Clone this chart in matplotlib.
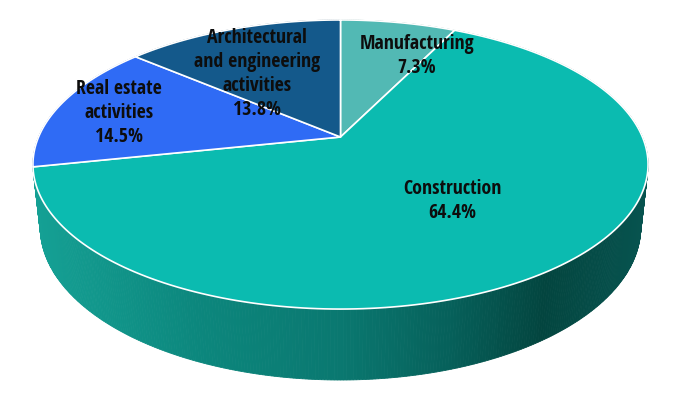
import numpy as np
import matplotlib
matplotlib.use("Agg")
import matplotlib.pyplot as plt
from matplotlib.patches import Polygon
from matplotlib.colors import LinearSegmentedColormap, to_rgb

plt.rcParams["font.family"] = ["Open Sans Condensed", "Roboto Condensed", "DejaVu Sans"]

# ── Data ─────────────────────────────────────────────────────────────────────
labels = ["Manufacturing", "Construction", "Real estate\nactivities",
          "Architectural\nand engineering\nactivities"]
shares = [7.3, 64.4, 14.5, 13.8]
colors = ["#52b9b4", "#0bbbb0", "#2f6bf5", "#14598b"]

# label centres in pixel space (layout)
label_pos = [(417, 56), (452, 201), (119, 113), (257, 74)]

# ── Perspective 3D view ──────────────────────────────────────────────────────
W, H = 674, 398
CX, CY = 340.5, 137.0
F, SIN_E, COS_E, DIST = 1407.0, 0.4614, 0.887, 4.66
DEPTH = 0.2356


def project(X, Y, Z):
    yc = Y * SIN_E + Z * COS_E
    zc = DIST + Y * COS_E - Z * SIN_E
    return CX + F * X / zc, CY - F * yc / zc, zc


fig = plt.figure(figsize=(W / 100, H / 100), dpi=100)
ax = fig.add_axes([0, 0, 1, 1])
ax.set_xlim(0, W)
ax.set_ylim(H, 0)
ax.axis("off")

# slice angle ranges (degrees, clockwise from 12 o'clock)
fracs = np.array(shares) / sum(shares)
ends = 90 - 360 * np.cumsum(fracs)
starts = np.concatenate([[90], ends[:-1]])

# side gradient for the front wall
side_cmap = LinearSegmentedColormap.from_list("side", [
    (0.00, "#15a195"), (0.27, "#0c877d"), (0.50, "#0a7870"),
    (0.68, "#06605a"), (0.83, "#03453f"), (1.00, "#075450")])


def slice_of(theta):
    t = (90 - theta) % 360
    acc = np.cumsum(fracs) * 360
    return int(np.searchsorted(acc, t, side="right"))


# side wall as thin strips, drawn back to front
n = 720
th = np.linspace(0, 360, n + 1)
strips = []
for a0, a1 in zip(th[:-1], th[1:]):
    r0, r1 = np.radians(a0), np.radians(a1)
    p = [project(np.cos(r0), np.sin(r0), 0), project(np.cos(r1), np.sin(r1), 0),
         project(np.cos(r1), np.sin(r1), -DEPTH), project(np.cos(r0), np.sin(r0), -DEPTH)]
    zmid = np.mean([q[2] for q in p])
    xmid = np.mean([q[0] for q in p])
    k = min(slice_of((a0 + a1) / 2), len(shares) - 1)
    if k == 1:
        col = side_cmap(np.clip((xmid - 33) / (648 - 33), 0, 1))
    else:
        col = tuple(np.array(to_rgb(colors[k])) * 0.6)
    strips.append((zmid, [(q[0], q[1]) for q in p], col))

for _, pts, col in sorted(strips, key=lambda s: -s[0]):
    ax.add_patch(Polygon(pts, closed=True, facecolor=col, edgecolor=col,
                         lw=0.6, zorder=1))

# top faces
for a0, a1, col in zip(starts, ends, colors):
    t = np.radians(np.linspace(a0, a1, 200))
    pts = [project(0, 0, 0)[:2]] + [project(np.cos(v), np.sin(v), 0)[:2] for v in t]
    ax.add_patch(Polygon(pts, closed=True, facecolor=col, edgecolor="white",
                         lw=1.2, zorder=2, joinstyle="round"))

# labels
for lab, val, (x, y) in zip(labels, shares, label_pos):
    ax.text(x, y, f"{lab}\n{val:.1f}%", ha="center", va="center",
            fontsize=14.2, fontweight="bold", color="#0d0d0d",
            linespacing=1.27, zorder=3)

fig.savefig("out.png", dpi=100)
